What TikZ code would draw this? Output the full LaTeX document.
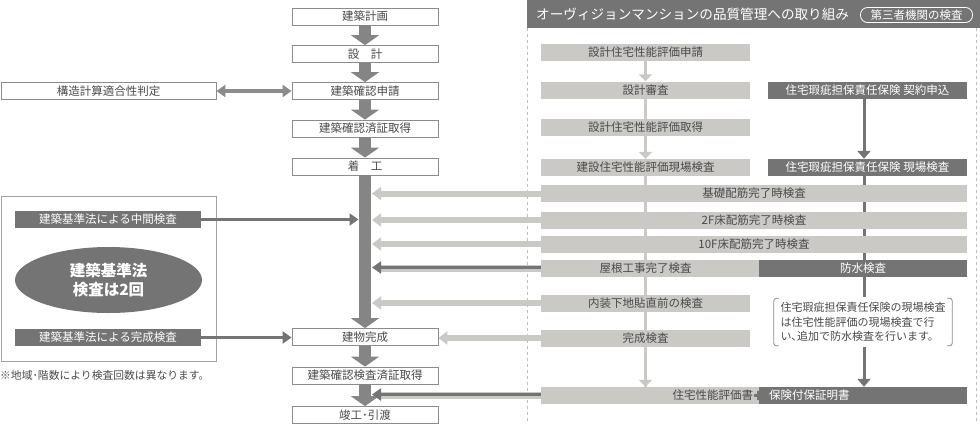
\documentclass[tikz,border=0pt]{standalone}
\usepackage{fontspec}
\setmainfont{Noto Sans CJK JP}
\usetikzlibrary{arrows.meta,shapes.geometric}
\definecolor{shaftgray}{HTML}{858585}
\definecolor{darkbar}{HTML}{747474}
\definecolor{lightbar}{HTML}{CBC9C6}
\definecolor{boxline}{HTML}{8C8C8C}
\definecolor{txt}{HTML}{4A4A4A}
\definecolor{dashc}{HTML}{BDBDBD}
\begin{document}
\begin{tikzpicture}[x=1pt,y=-1pt,
  jpfont/.style={font=\fontsize{11.5}{13}\selectfont},
  flowbox/.style={draw=boxline, line width=0.8pt, fill=white, minimum width=146pt, minimum height=17pt, inner sep=0pt, jpfont, text=txt},
  lbar/.style={fill=lightbar, minimum height=17pt, inner sep=0pt, jpfont, text=txt},
  dbar/.style={fill=darkbar, minimum height=17pt, inner sep=0pt, jpfont, text=white},
  bigarrow/.style={draw=shaftgray, line width=12pt, -{Triangle[width=28pt,length=10pt]}},
  larrow/.style={draw=lightbar, line width=6pt, -{Triangle[width=13pt,length=9pt]}},
  darrow/.style={draw=darkbar, line width=3.5pt, -{Triangle[width=12pt,length=9pt]}},
  lvarrow/.style={draw=lightbar, line width=3pt, -{Triangle[width=13pt,length=7pt]}},
  lline/.style={draw=lightbar, line width=3pt},
  dvarrow/.style={draw=darkbar, line width=3pt, -{Triangle[width=13pt,length=8pt]}},
  dblarrow/.style={draw=boxline, line width=4pt, {Triangle[width=12pt,length=9pt]}-{Triangle[width=12pt,length=9pt]}},
  dashline/.style={draw=dashc, line width=0.8pt, dash pattern=on 3pt off 3pt},
]
\useasboundingbox (0,0) rectangle (980,424);

% ---------- right panel header ----------
\node[fill=darkbar, minimum width=453pt, minimum height=28pt, inner sep=0pt, anchor=north west] (hdr) at (527,0) {};
\node[anchor=west, text=white, inner sep=0pt, font=\fontsize{13.6}{15}\selectfont] (hdrtext) at (536,14) {オーヴィジョンマンションの品質管理への取り組み};
\node[draw=white, line width=0.8pt, rounded corners=7pt, minimum width=112pt, minimum height=15pt, inner sep=0pt, text=white, font=\fontsize{11.5}{12}\selectfont] (hdrtag) at (916.5,15) {第三者機関の検査};
\draw[dashline] (hdr.south west) -- (hdr.south west |- 0,424);
\draw[dashline] ([xshift=-4pt]hdr.south east) -- ([xshift=-4pt]hdr.south east |- 0,424);

% ---------- left column ----------
\node[flowbox] (keikaku) at (365,16.5) {建築計画};
\node[flowbox] (sekkei) at (365,54) {設　計};
\node[flowbox] (shinsei) at (365,91) {建築確認申請};
\node[flowbox] (zumi) at (365,128.5) {建築確認済証取得};
\node[flowbox] (chakko) at (365,166.5) {着　工};
\node[flowbox] (kansei) at (365,337) {建物完成};
\node[flowbox] (kenzumi) at (365,375.5) {建築確認検査済証取得};
\node[flowbox] (shunko) at (365,415) {竣工･引渡};
\coordinate (shaftR) at ([xshift=7pt]chakko.south);
\coordinate (shaftL) at ([xshift=-6.5pt]chakko.south);

\node[flowbox, minimum width=215pt] (kozo) at (108.5,91) {構造計算適合性判定};
\draw[dblarrow] (kozo.east) -- (shinsei.west);

\draw[bigarrow] (keikaku.south) -- (sekkei.north);
\draw[bigarrow] (sekkei.south) -- (shinsei.north);
\draw[bigarrow] (shinsei.south) -- (zumi.north);
\draw[bigarrow] (zumi.south) -- (chakko.north);
\draw[bigarrow] (chakko.south) -- (kansei.north);
\draw[bigarrow] (kansei.south) -- (kenzumi.north);
\draw[bigarrow] (kenzumi.south) -- (shunko.north);

% legal inspection box
\node[draw=boxline!80, line width=0.8pt, minimum width=215pt, minimum height=165pt, inner sep=0pt] (lawbox) at (108.5,278.5) {};
\node[dbar, minimum width=186pt] (chukan) at (108,219.5) {建築基準法による中間検査};
\node[dbar, minimum width=186pt] (kanken) at (108,337.5) {建築基準法による完成検査};
\node[ellipse, fill=darkbar, minimum width=187pt, minimum height=66pt, inner sep=0pt, text=white, align=center, font=\fontsize{15.5}{19.5}\selectfont\bfseries] (ell) at (108.5,280) {建築基準法\\検査は2回};
\draw[darrow] (chukan.east) -- (chukan.east -| shaftL);
\draw[darrow] (kanken.east) -- (kanken.east -| kansei.west);
\node[anchor=west, inner sep=0pt, text=txt, font=\fontsize{10.8}{12}\selectfont] (footnote) at (0,375) {※地域･階数により検査回数は異なります。};

% ---------- right panel bars ----------
\draw[lline] (645.5,176) -- (645.5,387);
\node[lbar, minimum width=209pt] (hyoka1) at (645.5,52.5) {設計住宅性能評価申請};
\node[lbar, minimum width=209pt] (shinsa) at (645.5,90) {設計審査};
\node[lbar, minimum width=209pt] (hyoka2) at (645.5,127.5) {設計住宅性能評価取得};
\node[lbar, minimum width=209pt] (genbaL) at (645.5,167.5) {建設住宅性能評価現場検査};
\node[dbar, minimum width=199pt] (keiyaku) at (867.5,90) {住宅瑕疵担保責任保険 契約申込};
\node[dbar, minimum width=199pt] (genbaR) at (867.5,167.5) {住宅瑕疵担保責任保険 現場検査};

\draw[lvarrow] (hyoka1.south) -- (shinsa.north);
\draw[lline] (shinsa.south) -- (hyoka2.north);
\draw[lvarrow] (hyoka2.south) -- (genbaL.north);
\draw[dvarrow] ([xshift=-3.5pt]keiyaku.south) -- ([xshift=-3.5pt]genbaR.north);

\node[lbar, minimum width=218pt, text width=206pt, inner xsep=6pt, align=right] (finalL) at (650,395.5) {住宅性能評価書};
\node[dbar, minimum width=208pt, text width=188pt, inner xsep=10pt, align=left] (finalR) at (863,395.5) {保険付保証明書};
% plus mark between the two documents
\fill[darkbar] (754,394) rectangle (763,397);
\fill[darkbar] (757,391) rectangle (760,400);

\draw[lvarrow] (genbaL.south) -- (genbaL.south |- finalL.north);
\draw[dvarrow] ([xshift=-3.5pt]genbaR.south) -- ([xshift=-3.5pt]genbaR.south |- finalR.north);

\node[lbar, minimum width=426pt] (kiso) at (754,193.5) {基礎配筋完了時検査};
\node[lbar, minimum width=426pt] (f2) at (754,220) {2F床配筋完了時検査};
\node[lbar, minimum width=426pt] (f10) at (754,244) {10F床配筋完了時検査};
\node[lbar, minimum width=209pt] (yane) at (645.5,268.5) {屋根工事完了検査};
\node[dbar, minimum width=208pt] (bousui) at (863,268.5) {防水検査};
\fill[lightbar] (yane.north east) rectangle (bousui.south west);
\node[lbar, minimum width=209pt] (naisou) at (645.5,303) {内装下地貼直前の検査};
\node[lbar, minimum width=209pt] (kanken2) at (645.5,338) {完成検査};

% note with brackets
\node[fill=white, minimum width=178pt, minimum height=50pt, inner sep=0pt, align=left, text=txt, font=\fontsize{11}{14.5}\selectfont] (note) at (863,322) {住宅瑕疵担保責任保険の現場検査\\は住宅性能評価の現場検査で行\\い､追加で防水検査を行います。};
\draw[boxline, line width=0.8pt, rounded corners=2.5pt] ([xshift=5pt,yshift=-1.5pt]note.north west) -- ([yshift=-1.5pt]note.north west) -- ([yshift=1.5pt]note.south west) -- ([xshift=5pt,yshift=1.5pt]note.south west);
\draw[boxline, line width=0.8pt, rounded corners=2.5pt] ([xshift=-5pt,yshift=-1.5pt]note.north east) -- ([yshift=-1.5pt]note.north east) -- ([yshift=1.5pt]note.south east) -- ([xshift=-5pt,yshift=1.5pt]note.south east);

% ---------- horizontal arrows into the main flow ----------
\draw[larrow] (kiso.west) -- (kiso.west -| shaftR);
\draw[larrow] (f2.west) -- (f2.west -| shaftR);
\draw[larrow] (f10.west) -- (f10.west -| shaftR);
\draw[draw=lightbar, line width=6.5pt] (yane.west) -- ([xshift=9pt]yane.west -| shaftR);
\draw[darrow] ([yshift=1pt]yane.west) -- ([yshift=1pt]yane.west -| shaftR);
\draw[larrow] (naisou.west) -- (naisou.west -| shaftR);
\draw[larrow] (kanken2.west) -- (kanken2.west -| kansei.east);
\draw[draw=lightbar, line width=6.5pt] (finalL.west) -- ([xshift=9pt]finalL.west -| shaftR);
\draw[darrow] ([yshift=1pt]finalL.west) -- ([yshift=1pt]finalL.west -| shaftR);
\end{tikzpicture}
\end{document}
